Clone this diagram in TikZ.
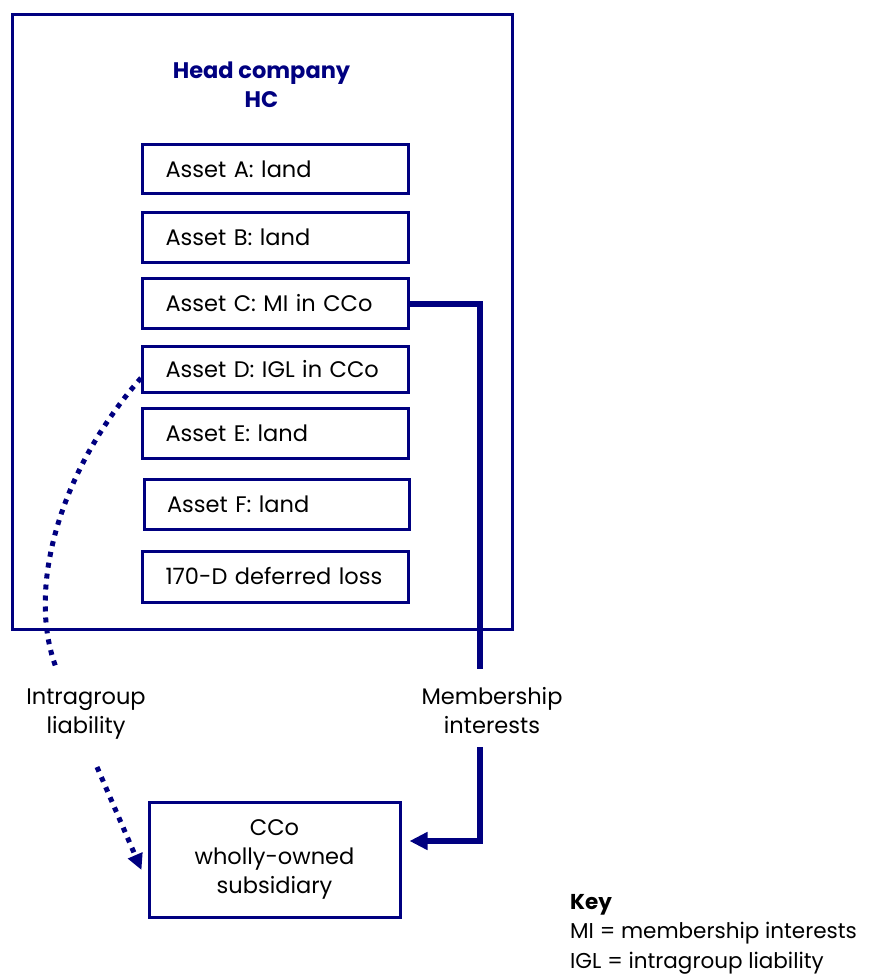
\documentclass[tikz,border=0pt]{standalone}
\usepackage{fontspec}
\setmainfont{Poppins}
\usetikzlibrary{arrows.meta,positioning}
\definecolor{navy}{RGB}{0,0,128}
\tikzset{
  x=1pt, y=-1pt,
  assetbox/.style={draw=navy, line width=3pt, minimum width=266pt, minimum height=49pt,
    inner xsep=23pt, text width=220pt, align=left, anchor=center,
    font=\fontsize{22.5}{26}\selectfont},
  outerbox/.style={draw=navy, line width=3pt, minimum width=500pt, minimum height=614pt},
  title/.style={text=navy, font=\bfseries\fontsize{22.5}{29}\selectfont, align=center, anchor=base},
  lbl/.style={font=\fontsize{22.5}{29}\selectfont, align=center},
  memb/.style={draw=navy, line width=6pt},
  membarrow/.style={memb, -{Triangle[length=18pt,width=17pt]}},
  dotline/.style={draw=navy, line width=5pt, dash pattern=on 5pt off 6pt},
  dotarrow/.style={dotline, -{Triangle[length=16pt,width=15pt]}},
}
\begin{document}
\begin{tikzpicture}
\useasboundingbox (0,0) rectangle (871,976);
\node[outerbox] (hc) at (262,322) {};
\node[title] (hct) at (261.5,108) {Head company\\HC};
\node[assetbox] (A) at (275.5,169.5) {Asset A: land};
\node[assetbox] (B) at (275.5,237.5) {Asset B: land};
\node[assetbox, minimum height=50pt] (C) at (275.5,303.5) {Asset C: MI in CCo};
\node[assetbox, minimum height=46pt] (D) at (275.5,369) {Asset D: IGL in CCo};
\node[assetbox, minimum height=50pt] (E) at (275.5,433) {Asset E: land};
\node[assetbox, minimum height=50pt, minimum width=265pt, text width=219pt, inner xsep=23pt] (F) at (276.5,504) {Asset F: land};
\node[assetbox, minimum height=51pt] (G) at (275.5,576.5) {170-D deferred loss};

\node[draw=navy, line width=3pt, minimum width=251pt, minimum height=115pt, lbl] (cco) at (274.5,859.5) {CCo\\wholly-owned\\subsidiary};

\node[lbl, anchor=base] (ml) at (492,733) {Membership\\interests};
\node[lbl, anchor=base] (il) at (86,733) {Intragroup\\liability};

\coordinate (m1) at (480,669);
\coordinate (m2) at (480,747);
\coordinate (i1) at (57,670);
\coordinate (i2) at (97,767);

\draw[memb] (C.east) -| (m1);
\draw[membarrow] (m2) |- ([xshift=8pt,yshift=18.5pt]cco.east);

\draw[dotline] ([yshift=-9pt]D.west) .. controls (60,470) and (25,590) .. (i1);
\draw[dotarrow] (i2) -- ([xshift=-6pt,yshift=-10.5pt]cco.west);

\node[anchor=base west, font=\fontsize{21.5}{29.5}\selectfont, align=left, inner xsep=0pt] (key) at (570,968)
  {\textbf{Key}\\MI = membership interests\\IGL = intragroup liability};
\end{tikzpicture}
\end{document}
